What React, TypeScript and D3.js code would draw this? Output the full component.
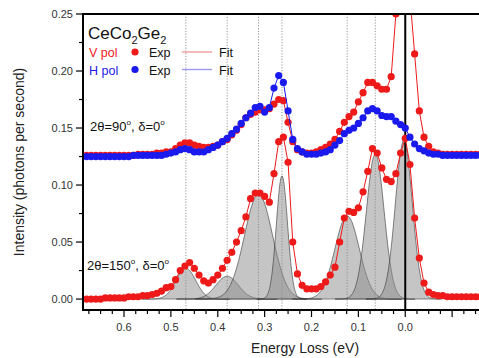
import { useEffect, useRef } from 'react';
import * as d3 from 'd3';

// energy loss grid (eV), shared by all three measured series
const ENERGY = [
  0.68, 0.67, 0.66, 0.65, 0.64, 0.63, 0.62, 0.61, 0.6, 0.59,
  0.58, 0.57, 0.56, 0.55, 0.54, 0.53, 0.52, 0.51, 0.5, 0.49,
  0.48, 0.47, 0.46, 0.45, 0.44, 0.43, 0.42, 0.41, 0.4, 0.39,
  0.38, 0.37, 0.36, 0.35, 0.34, 0.33, 0.32, 0.31, 0.3, 0.29,
  0.28, 0.27, 0.26, 0.25, 0.24, 0.23, 0.22, 0.21, 0.2, 0.19,
  0.18, 0.17, 0.16, 0.15, 0.14, 0.13, 0.12, 0.11, 0.1, 0.09,
  0.08, 0.07, 0.06, 0.05, 0.04, 0.03, 0.02, 0.01, 0.0, -0.01,
  -0.02, -0.03, -0.04, -0.05, -0.06, -0.07, -0.08, -0.09, -0.1, -0.11,
  -0.12, -0.13, -0.14, -0.15, -0.16,
];

// 2θ=90°, V polarisation (offset spectrum)
const V_POL_90 = [
  0.126, 0.126, 0.126, 0.126, 0.126, 0.126, 0.126, 0.126, 0.126, 0.126,
  0.126, 0.127, 0.127, 0.127, 0.127, 0.128, 0.128, 0.129, 0.129, 0.132,
  0.135, 0.137, 0.137, 0.135, 0.134, 0.133, 0.133, 0.134, 0.135, 0.138,
  0.14, 0.144, 0.148, 0.153, 0.159, 0.162, 0.164, 0.166, 0.166, 0.167,
  0.171, 0.175, 0.174, 0.155, 0.138, 0.131, 0.129, 0.128, 0.128, 0.129,
  0.131, 0.133, 0.136, 0.14, 0.147, 0.155, 0.16, 0.164, 0.173, 0.181,
  0.19, 0.19, 0.187, 0.184, 0.184, 0.195, 0.25, 0.3, 0.32, 0.265,
  0.215, 0.165, 0.142, 0.134, 0.129, 0.128, 0.127, 0.127, 0.127, 0.127,
  0.127, 0.127, 0.127, 0.127, 0.127,
];

// 2θ=90°, H polarisation (offset spectrum)
const H_POL_90 = [
  0.125, 0.125, 0.125, 0.125, 0.125, 0.125, 0.125, 0.125, 0.125, 0.125,
  0.126, 0.126, 0.126, 0.126, 0.126, 0.126, 0.126, 0.127, 0.128, 0.129,
  0.131, 0.132, 0.131, 0.129, 0.129, 0.129, 0.131, 0.133, 0.135, 0.138,
  0.141, 0.145, 0.149, 0.154, 0.159, 0.163, 0.168, 0.169, 0.164, 0.168,
  0.185, 0.196, 0.19, 0.165, 0.14, 0.132, 0.129, 0.127, 0.127, 0.127,
  0.128, 0.129, 0.131, 0.135, 0.139, 0.145, 0.148, 0.15, 0.154, 0.159,
  0.165, 0.167, 0.165, 0.161, 0.16, 0.16, 0.156, 0.153, 0.15, 0.142,
  0.136, 0.132, 0.13, 0.128, 0.127, 0.127, 0.126, 0.126, 0.126, 0.126,
  0.126, 0.126, 0.126, 0.126, 0.126,
];

// 2θ=150°, V polarisation
const V_POL_150 = [
  0.0, 0.0, 0.0, 0.0, 0.001, 0.001, 0.001, 0.001, 0.001, 0.002,
  0.002, 0.002, 0.003, 0.003, 0.004, 0.005, 0.007, 0.01, 0.011, 0.017,
  0.025, 0.029, 0.032, 0.027, 0.021, 0.016, 0.014, 0.017, 0.021, 0.027,
  0.034, 0.041, 0.05, 0.06, 0.072, 0.088, 0.093, 0.093, 0.09, 0.085,
  0.11, 0.138, 0.142, 0.12, 0.05, 0.022, 0.012, 0.009, 0.009, 0.009,
  0.011, 0.015, 0.021, 0.028, 0.05, 0.071, 0.077, 0.076, 0.08, 0.094,
  0.112, 0.132, 0.128, 0.115, 0.105, 0.103, 0.11, 0.128, 0.141, 0.118,
  0.071, 0.036, 0.014, 0.006, 0.004, 0.003, 0.003, 0.002, 0.002, 0.002,
  0.002, 0.002, 0.002, 0.002, 0.002,
];

// Gaussian components of the 150° fit
const PEAK_CENTER = [0.468, 0.38, 0.313, 0.263, 0.124, 0.064, 0.003];
const PEAK_HEIGHT = [0.027, 0.02, 0.092, 0.108, 0.073, 0.127, 0.139];
const PEAK_SIGMA = [0.021, 0.024, 0.03, 0.012, 0.026, 0.019, 0.018];

const MARKER_LINES = [0.468, 0.38, 0.313, 0.263, 0.124, 0.064];

const X_TICKS = [0.6, 0.5, 0.4, 0.3, 0.2, 0.1, 0.0];
const Y_TICKS = [0.0, 0.05, 0.1, 0.15, 0.2, 0.25];

const RED = '#ee1a1a';
const BLUE = '#1a1aee';
const FONT = 'Arial, "Liberation Sans", sans-serif';

export default function App() {
  const svgRef = useRef<SVGSVGElement>(null);

  useEffect(() => {
    const svg = d3.select(svgRef.current);
    if (!svg.node()) return;
    svg.selectAll('*').remove();

    const left = 83;
    const right = 499;
    const top = 14;
    const bottom = 310;

    const x = d3.scaleLinear().domain([0.6875, -0.2]).range([left, right]);
    const y = d3.scaleLinear().domain([-0.0096, 0.25]).range([bottom, top]);

    svg
      .append('defs')
      .append('clipPath')
      .attr('id', 'plot-clip')
      .append('rect')
      .attr('x', left)
      .attr('y', top)
      .attr('width', right - left)
      .attr('height', bottom - top);

    const plot = svg.append('g').attr('clip-path', 'url(#plot-clip)');

    // dotted guide lines at the fitted peak positions
    MARKER_LINES.forEach((e) => {
      plot
        .append('line')
        .attr('x1', x(e))
        .attr('x2', x(e))
        .attr('y1', top)
        .attr('y2', bottom)
        .attr('stroke', '#8a8a8a')
        .attr('stroke-width', 0.9)
        .attr('stroke-dasharray', '1.2 1.6');
    });

    // gaussian components, filled grey
    PEAK_CENTER.forEach((c, i) => {
      const s = PEAK_SIGMA[i];
      const h = PEAK_HEIGHT[i];
      const pts = d3.range(c + 4.5 * s, c - 4.5 * s, -s / 25);
      const area = d3
        .area<number>()
        .x((e) => x(e))
        .y0(y(0))
        .y1((e) => y(h * Math.exp(-((e - c) ** 2) / (2 * s * s))));
      plot
        .append('path')
        .datum(pts)
        .attr('d', area)
        .attr('fill', '#8c8c8c')
        .attr('fill-opacity', 0.5)
        .attr('stroke', '#333')
        .attr('stroke-width', 0.6);
    });

    const drawSeries = (values: number[], color: string) => {
      const line = d3
        .line<number>()
        .x((_, i) => x(ENERGY[i]))
        .y((v) => y(v));
      plot
        .append('path')
        .datum(values)
        .attr('d', line)
        .attr('fill', 'none')
        .attr('stroke', color)
        .attr('stroke-width', 1);
      plot
        .append('g')
        .selectAll('circle')
        .data(values)
        .join('circle')
        .attr('cx', (_, i) => x(ENERGY[i]))
        .attr('cy', (v) => y(v))
        .attr('r', 3.6)
        .attr('fill', color);
    };

    // elastic line
    plot
      .append('line')
      .attr('x1', x(0))
      .attr('x2', x(0))
      .attr('y1', top)
      .attr('y2', bottom)
      .attr('stroke', '#000')
      .attr('stroke-width', 2);

    drawSeries(V_POL_150, RED);
    drawSeries(V_POL_90, RED);
    drawSeries(H_POL_90, BLUE);

    // frame
    const frame = svg.append('g').attr('stroke', '#000').attr('stroke-width', 2);
    frame.append('line').attr('x1', left).attr('x2', left).attr('y1', top - 1).attr('y2', bottom + 1);
    frame.append('line').attr('x1', left).attr('x2', right).attr('y1', top).attr('y2', top);
    frame.append('line').attr('x1', left).attr('x2', right).attr('y1', bottom).attr('y2', bottom);

    // x axis ticks
    const xMinor = d3.range(0.675, -0.21, -0.025);
    svg
      .append('g')
      .selectAll('line')
      .data(xMinor)
      .join('line')
      .attr('x1', (d) => x(d))
      .attr('x2', (d) => x(d))
      .attr('y1', bottom)
      .attr('y2', (d) => (Math.abs(Math.round(d * 10) - d * 10) < 1e-6 ? bottom + 7 : bottom + 4))
      .attr('stroke', '#000')
      .attr('stroke-width', 1.2);

    svg
      .append('g')
      .selectAll('text')
      .data(X_TICKS)
      .join('text')
      .attr('x', (d) => x(d))
      .attr('y', bottom + 21)
      .attr('text-anchor', 'middle')
      .attr('font-family', FONT)
      .attr('font-size', 11)
      .attr('fill', '#333')
      .text((d) => d.toFixed(1));

    // y axis ticks
    const yMinor = d3.range(0, 0.2501, 0.025);
    svg
      .append('g')
      .selectAll('line')
      .data(yMinor)
      .join('line')
      .attr('x1', left)
      .attr('x2', (d, i) => (i % 2 === 0 ? left - 7 : left - 4))
      .attr('y1', (d) => y(d))
      .attr('y2', (d) => y(d))
      .attr('stroke', '#000')
      .attr('stroke-width', 1.2);

    svg
      .append('g')
      .selectAll('text')
      .data(Y_TICKS)
      .join('text')
      .attr('x', left - 10)
      .attr('y', (d) => y(d) + 4)
      .attr('text-anchor', 'end')
      .attr('font-family', FONT)
      .attr('font-size', 11)
      .attr('fill', '#333')
      .text((d) => d.toFixed(2));

    // axis titles
    svg
      .append('text')
      .attr('x', 305)
      .attr('y', 353)
      .attr('text-anchor', 'middle')
      .attr('font-family', FONT)
      .attr('font-size', 14)
      .attr('fill', '#222')
      .text('Energy Loss (eV)');

    svg
      .append('text')
      .attr('transform', 'translate(24,162) rotate(-90)')
      .attr('text-anchor', 'middle')
      .attr('font-family', FONT)
      .attr('font-size', 14)
      .attr('fill', '#222')
      .text('Intensity (photons per second)');

    // legend
    const title = svg
      .append('text')
      .attr('x', 88)
      .attr('y', 39)
      .attr('font-family', FONT)
      .attr('font-size', 17)
      .attr('fill', '#111');
    title.append('tspan').text('CeCo');
    title.append('tspan').attr('font-size', 11).attr('dy', 5).text('2');
    title.append('tspan').attr('dy', -5).text('Ge');
    title.append('tspan').attr('font-size', 11).attr('dy', 5).text('2');

    const legendRows = [
      { label: 'V pol', color: RED, fit: '#f29a9a', y: 52 },
      { label: 'H pol', color: BLUE, fit: '#9a9af2', y: 69.5 },
    ];
    legendRows.forEach((r) => {
      const g = svg.append('g').attr('font-family', FONT).attr('font-size', 12.5);
      g.append('text').attr('x', 89).attr('y', r.y + 5).attr('fill', r.color).text(r.label);
      g.append('circle').attr('cx', 135).attr('cy', r.y).attr('r', 3.6).attr('fill', r.color);
      g.append('text').attr('x', 149).attr('y', r.y + 5).attr('fill', '#111').text('Exp');
      g.append('line')
        .attr('x1', 182)
        .attr('x2', 212)
        .attr('y1', r.y)
        .attr('y2', r.y)
        .attr('stroke', r.fit)
        .attr('stroke-width', 1.4);
      g.append('text').attr('x', 219).attr('y', r.y + 5).attr('fill', '#111').text('Fit');
    });

    const angleLabel = (xPos: number, yPos: number, angle: string) => {
      const t = svg
        .append('text')
        .attr('x', xPos)
        .attr('y', yPos)
        .attr('font-family', FONT)
        .attr('font-size', 13)
        .attr('fill', '#111');
      t.append('tspan').text(`2θ=${angle}`);
      t.append('tspan').attr('font-size', 8).attr('dy', -6).text('o');
      t.append('tspan').attr('dy', 6).text(', δ=0');
      t.append('tspan').attr('font-size', 8).attr('dy', -6).text('o');
    };
    angleLabel(90, 131, '90');
    angleLabel(87, 270, '150');
  }, []);

  return (
    <svg
      ref={svgRef}
      width={479}
      height={358}
      style={{ position: 'absolute', left: 0, top: 0, background: '#fff' }}
    />
  );
}
